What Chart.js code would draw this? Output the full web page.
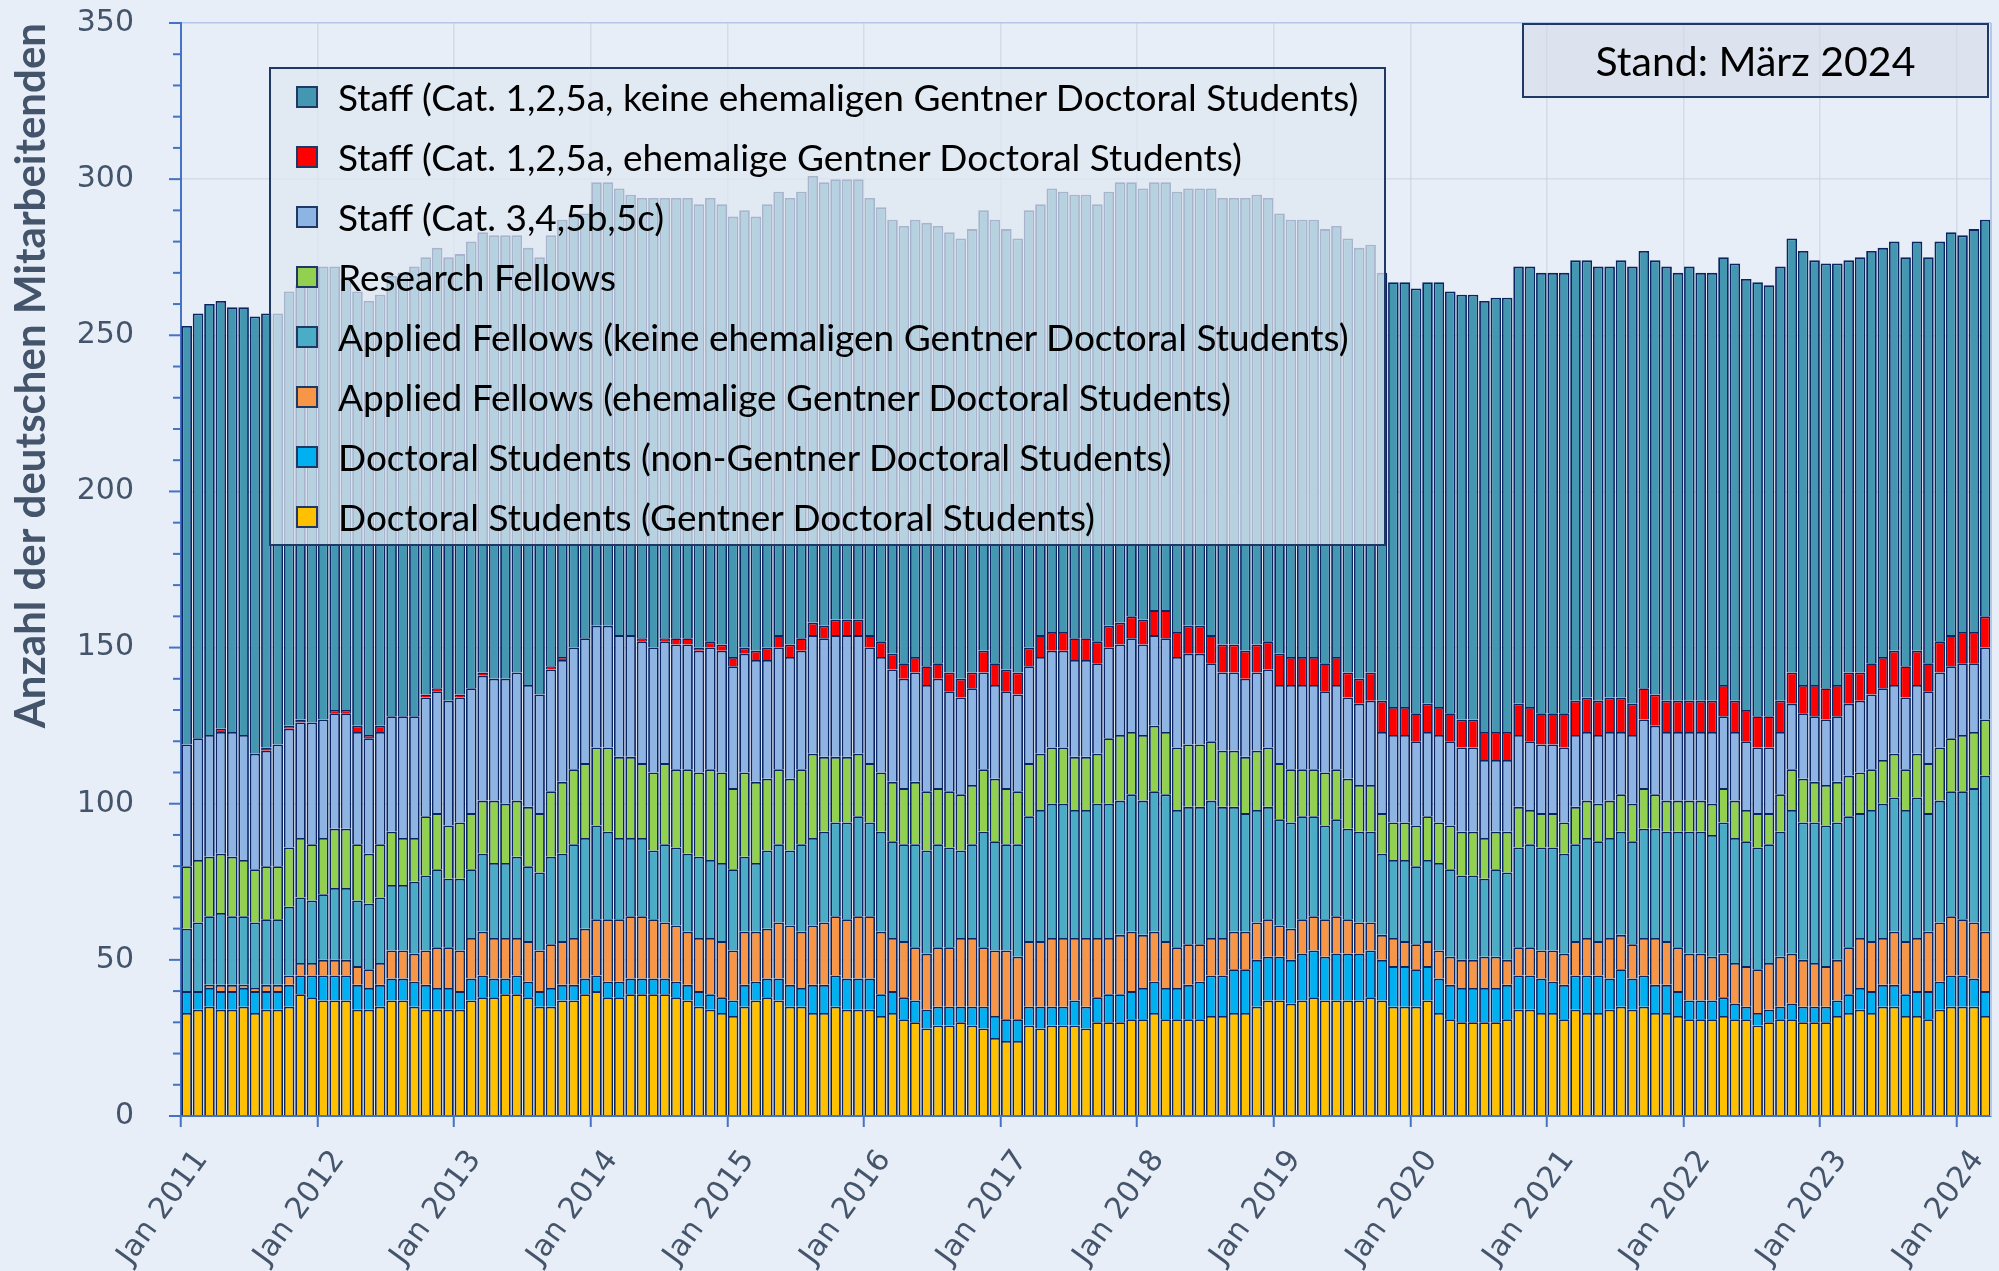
<!DOCTYPE html>
<html>
<head>
<meta charset="utf-8">
<script src="https://cdn.jsdelivr.net/npm/chart.js@4.4.1/dist/chart.umd.min.js"></script>
<style>
  html, body { margin: 0; padding: 0; background: #e7eef8; }
  #wrap { position: relative; width: 1999px; height: 1271px; overflow: hidden; background: #e7eef8; }
  #c { position: absolute; left: 0; top: 0; }
  #legend { position: absolute; left: 269px; top: 67px; width: 1117px; height: 479px; box-sizing: border-box;
            border: 2px solid #1f3864; background: rgba(222,231,242,0.74); font-family: Lato, "Noto Sans", sans-serif; }
  .row { position: absolute; left: 0; right: 0; height: 60px; }
  .sw { position: absolute; left: 25px; top: 19px; width: 22px; height: 22px; box-sizing: border-box; border: 2px solid #1f3864; }
  .lbl { position: absolute; left: 67px; top: 0; height: 60px; line-height: 60px; font-size: 37px; color: #000; white-space: nowrap; }
  #stand { position: absolute; left: 1522px; top: 23px; width: 467px; height: 75px; box-sizing: border-box;
           border: 2px solid #1f3864; background: rgba(212,219,229,0.55);
           font-family: Lato, "Noto Sans", sans-serif; font-size: 41px; color: #000;
           display: flex; align-items: center; justify-content: center; }
</style>
</head>
<body>
<div id="wrap">
  <canvas id="c" width="1999" height="1271"></canvas>
  <div id="legend"></div>
  <div id="stand">Stand: März 2024</div>
</div>
<script>
// ---------------- DATA ----------------
const START_YEAR = 2011;
const N_MONTHS = 159; // Jan 2011 .. Mar 2024
const MONTH_NAMES = ['Jan','Feb','Mär','Apr','Mai','Jun','Jul','Aug','Sep','Okt','Nov','Dez'];
const categories = Array.from({length: N_MONTHS}, (_, i) => MONTH_NAMES[i % 12] + ' ' + (START_YEAR + Math.floor(i / 12)));
const yearTicks = ['Jan 2011','Jan 2012','Jan 2013','Jan 2014','Jan 2015','Jan 2016','Jan 2017',
                   'Jan 2018','Jan 2019','Jan 2020','Jan 2021','Jan 2022','Jan 2023','Jan 2024'];
const yTickLabels = [0, 50, 100, 150, 200, 250, 300, 350];

// Doctoral Students (Gentner Doctoral Students)
const dsGentner = [
  33,34,35,34,34,35,33,34,34,35,39,38,
  37,37,37,34,34,35,37,37,35,34,34,34,
  34,37,38,38,39,39,38,35,35,37,37,39,
  40,38,38,39,39,39,39,38,37,35,34,33,
  32,35,37,38,37,35,35,33,33,35,34,34,
  34,32,33,31,30,28,29,29,30,29,28,25,
  24,24,29,28,29,29,29,28,30,30,30,31,
  31,33,31,31,31,31,32,32,33,33,35,37,
  37,36,37,38,37,37,37,37,38,37,35,35,
  35,37,33,31,30,30,30,30,31,34,34,33,
  33,31,34,33,33,34,35,34,35,33,33,32,
  31,31,31,32,31,31,29,30,31,31,30,30,
  30,32,33,34,33,35,35,32,32,31,34,35,
  35,35,32];
// Doctoral Students (non-Gentner Doctoral Students)
const dsNonGentner = [
  7,6,6,6,6,6,7,6,6,7,6,7,
  8,8,8,8,7,7,7,7,8,8,7,7,
  6,7,7,6,5,6,5,5,6,5,5,5,
  5,5,5,5,5,5,5,5,5,5,5,5,
  5,7,6,6,7,7,6,9,9,10,10,10,
  10,7,7,7,7,6,6,6,5,6,7,7,
  7,7,6,7,6,6,8,7,8,9,9,9,
  10,10,10,10,11,12,13,13,14,14,15,14,
  14,14,15,15,14,15,15,15,15,13,13,13,
  12,11,11,11,11,11,11,11,11,11,11,11,
  10,11,11,12,12,10,12,10,10,9,9,8,
  6,6,6,6,5,4,4,4,4,5,5,5,
  5,5,6,7,7,7,7,7,8,9,9,10,
  10,9,8];
// Applied Fellows (ehemalige Gentner Doctoral Students)
const afFormer = [
  0,0,1,2,2,1,1,2,2,3,4,4,
  5,5,5,6,6,7,9,9,9,11,13,13,
  13,13,14,13,13,12,13,13,14,14,15,16,
  18,20,20,20,20,19,18,18,17,17,18,18,
  16,17,16,16,18,19,18,19,20,19,19,20,
  20,20,17,18,17,18,19,19,22,22,19,21,
  22,20,21,21,22,22,20,22,19,18,19,19,
  17,16,15,13,13,12,12,12,12,12,12,12,
  10,10,11,11,12,12,11,10,9,8,9,8,
  8,8,9,9,9,9,10,10,8,9,9,9,
  10,10,11,12,11,13,11,11,12,15,14,14,
  15,15,14,14,13,13,14,15,16,16,15,14,
  13,13,15,16,16,15,17,17,17,19,19,19,
  18,18,19];
// Applied Fellows (keine ehemaligen Gentner Doctoral Students)
const afOther = [
  20,22,22,23,22,22,21,21,21,22,21,20,
  21,23,23,21,21,21,21,21,23,24,25,22,
  23,22,25,24,24,26,24,25,28,28,30,29,
  30,28,26,25,25,22,25,25,25,26,25,25,
  26,24,22,25,25,24,28,28,29,30,31,32,
  30,32,31,31,33,33,33,32,28,30,37,35,
  34,36,40,42,43,43,41,41,43,43,43,44,
  43,45,47,44,44,44,44,42,40,38,36,36,
  34,34,33,32,30,31,29,29,29,26,25,26,
  25,26,28,28,27,27,25,28,28,32,33,33,
  33,32,31,32,32,32,33,33,35,35,35,37,
  39,39,39,42,40,40,39,38,40,46,44,45,
  45,44,42,40,42,43,43,42,45,38,39,40,
  41,43,50];
// Research Fellows
const researchFellows = [
  20,20,19,19,19,18,17,17,17,19,19,18,
  18,19,19,18,16,17,17,15,14,19,18,17,
  18,18,17,20,19,18,19,19,21,23,24,24,
  25,27,26,26,24,25,26,25,27,27,29,29,
  26,27,26,23,24,23,24,27,24,21,21,20,
  19,19,19,18,20,19,18,18,18,19,20,20,
  18,17,17,18,18,18,17,17,16,21,21,20,
  21,21,20,20,20,20,19,18,18,18,19,19,
  18,17,15,15,17,16,16,15,15,13,12,12,
  13,14,13,14,14,14,13,12,13,13,11,11,
  11,10,12,12,12,12,12,12,13,11,10,10,
  10,10,10,11,12,10,11,10,12,13,14,13,
  13,13,13,13,13,14,14,13,14,16,17,17,
  18,18,18];
// Staff (Cat. 3,4,5b,5c)
const staffCat345 = [
  39,39,39,39,40,40,37,37,39,38,37,39,
  38,37,37,36,37,36,37,39,39,38,39,40,
  40,40,40,39,40,41,39,38,39,39,39,40,
  39,39,39,39,39,40,39,40,40,39,39,39,
  39,38,39,38,39,39,38,38,38,39,39,38,
  37,37,36,35,35,34,35,32,31,31,31,30,
  31,31,31,31,31,31,31,31,29,29,29,30,
  29,29,30,29,29,29,25,25,25,25,25,25,
  25,27,27,27,26,27,26,26,27,26,28,28,
  27,27,28,27,27,27,25,23,23,23,22,22,
  22,24,23,22,22,22,20,22,22,22,22,22,
  22,22,23,23,22,22,21,21,20,21,21,21,
  21,21,23,23,24,23,22,23,22,23,24,23,
  23,22,23];
// Staff (Cat. 1,2,5a, ehemalige Gentner Doctoral Students)
const staffFormer = [
  0,0,0,1,0,0,0,1,0,1,1,0,
  0,1,1,2,1,2,0,0,0,1,1,0,
  1,0,1,0,0,0,0,0,1,1,0,0,
  0,0,0,0,1,0,1,2,2,1,2,2,
  3,2,3,4,4,4,4,4,4,5,5,5,
  4,5,5,5,5,6,5,6,6,5,7,7,
  7,7,6,7,6,6,7,7,7,7,7,7,
  8,8,9,8,9,9,9,9,9,9,9,9,
  10,9,9,9,9,9,8,8,9,10,9,9,
  9,9,9,9,9,9,9,9,9,10,11,10,
  10,11,11,11,11,11,11,10,10,10,10,10,
  10,10,10,10,10,10,10,10,10,10,9,10,
  10,10,10,9,10,10,11,10,11,9,10,10,
  10,10,10];
// Staff (Cat. 1,2,5a, keine ehemaligen Gentner Doctoral Students)
const staffOther = [
  134,136,138,137,136,137,140,139,138,139,139,142,
  145,142,138,139,139,138,141,142,144,140,141,142,
  141,143,141,142,142,140,140,140,138,140,139,136,
  142,142,143,141,141,144,141,141,141,142,142,141,
  141,140,139,142,142,143,143,143,142,141,141,141,
  140,139,139,140,140,142,140,141,141,142,141,142,
  141,139,140,138,142,141,142,142,140,139,141,139,
  138,137,137,141,140,140,143,143,143,145,144,142,
  141,140,140,140,139,138,139,138,137,137,136,136,
  136,135,136,135,136,136,138,139,139,140,141,141,
  141,141,141,140,139,138,140,140,140,139,139,137,
  139,137,137,137,140,138,139,138,139,139,139,136,
  136,135,132,133,132,131,131,131,131,130,128,129,
  127,129,127];

const seriesLabels = [
  'Doctoral Students (Gentner Doctoral Students)',
  'Doctoral Students (non-Gentner Doctoral Students)',
  'Applied Fellows (ehemalige Gentner Doctoral Students)',
  'Applied Fellows (keine ehemaligen Gentner Doctoral Students)',
  'Research Fellows',
  'Staff (Cat. 3,4,5b,5c)',
  'Staff (Cat. 1,2,5a, ehemalige Gentner Doctoral Students)',
  'Staff (Cat. 1,2,5a, keine ehemaligen Gentner Doctoral Students)'
];
const seriesData = [dsGentner, dsNonGentner, afFormer, afOther, researchFellows, staffCat345, staffFormer, staffOther];
const seriesColors = ['#FFC000', '#00B0F0', '#F79646', '#4BACC6', '#92D050', '#8EB4E3', '#FF0000', '#4397B0'];

// ---------------- CHART ----------------
const BORDER = '#0b2462';
const datasets = seriesData.map((arr, k) => ({
  label: seriesLabels[k],
  data: arr.map((v, i) => ({ x: i + 0.5, y: v })),
  backgroundColor: seriesColors[k],
  borderColor: BORDER,
  borderWidth: 1.8,
  barPercentage: 0.93,
  categoryPercentage: 1.0
}));

const decor = {
  id: 'decor',
  afterDraw(chart) {
    const { ctx, chartArea: a, scales: { y } } = chart;
    ctx.save();
    ctx.strokeStyle = '#4472c4';
    ctx.lineWidth = 2;
    for (let v = 0; v <= 350; v += 10) {
      const py = y.getPixelForValue(v);
      const len = (v % 50 === 0) ? 12 : 8;
      ctx.beginPath(); ctx.moveTo(a.left - len, py); ctx.lineTo(a.left, py); ctx.stroke();
    }
    ctx.strokeStyle = '#b4c7e7';
    ctx.beginPath(); ctx.moveTo(a.right, a.top); ctx.lineTo(a.right, a.bottom); ctx.stroke();
    ctx.restore();
  }
};

new Chart(document.getElementById('c'), {
  type: 'bar',
  data: { labels: categories, datasets },
  options: {
    responsive: false,
    animation: false,
    devicePixelRatio: 1,
    events: [],
    layout: { padding: { left: 0, right: 8, top: 23, bottom: 0 } },
    plugins: { legend: { display: false }, tooltip: { enabled: false } },
    scales: {
      x: {
        type: 'linear',
        stacked: true,
        offset: false,
        min: 0, max: N_MONTHS,
        afterBuildTicks(scale) { scale.ticks = yearTicks.map((_, k) => ({ value: k * 12 })); },
        afterFit(scale) { scale.height = 155; scale.paddingLeft = 0; scale.paddingRight = 0; },
        ticks: {
          autoSkip: false,
          minRotation: 54, maxRotation: 54,
          padding: 17,
          labelOffset: 21,
          color: '#44546a',
          font: { family: 'DejaVu Sans', size: 30 },
          callback: (v) => yearTicks[Math.round(v / 12)] || ''
        },
        grid: { offset: false, color: 'rgba(196,205,220,0.55)', lineWidth: 1.5, tickColor: '#4472c4', tickLength: 11, tickWidth: 2 },
        border: { display: true, color: '#4472c4', width: 2 }
      },
      y: {
        stacked: true,
        min: 0, max: 350,
        afterFit(scale) { scale.width = 181; scale.paddingTop = 0; scale.paddingBottom = 0; },
        ticks: {
          stepSize: 10,
          autoSkip: false,
          padding: 35,
          color: '#44546a',
          font: { family: 'DejaVu Sans', size: 30 },
          callback: (v) => yTickLabels.includes(v) ? String(v) : ''
        },
        grid: {
          color: (c) => {
            const v = c.tick ? c.tick.value : -1;
            if (v === 350) return '#b4c7e7';
            return (v % 50 === 0 && v !== 0) ? 'rgba(196,205,220,0.55)' : 'transparent';
          },
          lineWidth: 1.5,
          tickColor: 'transparent',
          tickLength: 12
        },
        border: { display: true, color: '#4472c4', width: 2 },
        title: {
          display: true,
          text: 'Anzahl der deutschen Mitarbeitenden',
          align: 'end',
          color: '#44546a',
          font: { family: 'Lato', size: 42, weight: 'bold' },
          padding: { top: 6, bottom: 0 }
        }
      }
    }
  },
  plugins: [decor]
});

// ---------------- LEGEND (overlay) ----------------
const legendEl = document.getElementById('legend');
let row = 0;
for (let k = seriesLabels.length - 1; k >= 0; k--) {
  const r = document.createElement('div');
  r.className = 'row';
  r.style.top = (60 * row - 2) + 'px';
  const sw = document.createElement('div');
  sw.className = 'sw';
  sw.style.background = seriesColors[k];
  const lb = document.createElement('div');
  lb.className = 'lbl';
  lb.textContent = seriesLabels[k];
  r.appendChild(sw); r.appendChild(lb);
  legendEl.appendChild(r);
  row++;
}
</script>
</body>
</html>
